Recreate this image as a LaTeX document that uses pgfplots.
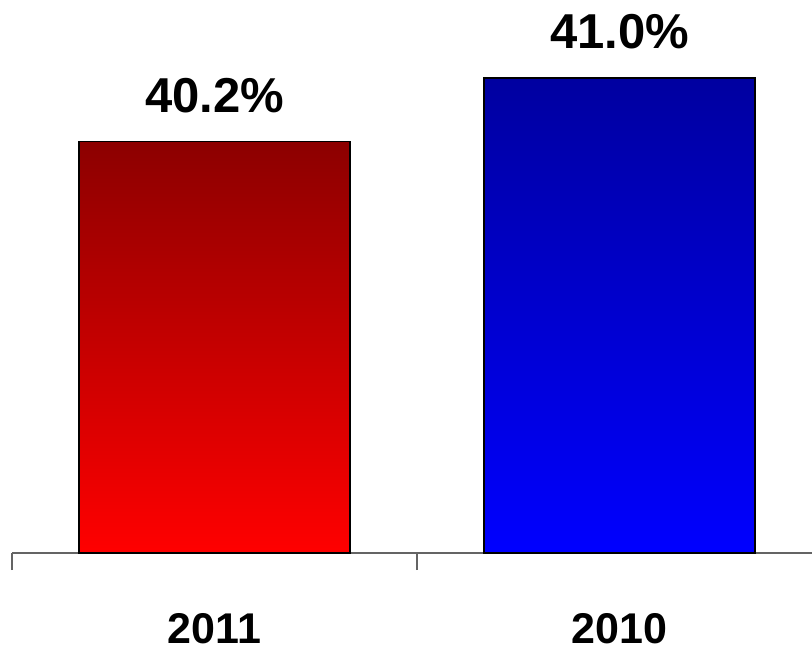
\documentclass[border=0pt]{standalone}
\usepackage{pgfplots}
\pgfplotsset{compat=1.18}
\usepackage{fontspec}
\setmainfont{Liberation Sans}
\definecolor{redtop}{RGB}{140,0,0}
\definecolor{redbot}{RGB}{255,0,0}
\definecolor{bluetop}{RGB}{0,0,160}
\definecolor{bluebot}{RGB}{0,0,255}
\definecolor{axgray}{RGB}{100,100,100}
\begin{document}
\begin{tikzpicture}
\path[use as bounding box] (0,0) rectangle (812pt,651pt);
\begin{axis}[
  at={(12pt,98pt)}, anchor=south west,
  width=800pt, height=553pt, scale only axis,
  xmin=-0.5, xmax=1.4753,
  ymin=35, ymax=41.985,
  axis x line*=bottom,
  axis y line=none,
  x axis line style={draw=axgray, line width=1.5pt},
  ybar, bar shift=0pt, bar width=0.669,
  xtick={0,1}, xticklabels={2011,2010},
  major tick length=0pt,
  xticklabel style={font=\fontsize{43}{48}\selectfont\bfseries, anchor=base, yshift=-90pt},
  extra x ticks={-0.5,0.5},
  extra x tick labels={},
  extra x tick style={major tick length=17pt, tick align=outside, tick style={draw=axgray, line width=1.5pt}},
  /pgf/number format/assume math mode=true,
  nodes near coords={\pgfmathprintnumber[fixed,fixed zerofill,precision=1]{\pgfplotspointmeta}\%},
  every node near coord/.append style={font=\fontsize{49}{56}\selectfont\bfseries, anchor=base, yshift=29pt, text=black},
  clip=false,
]
\addplot[draw=black, line width=1.2pt, top color=redtop, bottom color=redbot] coordinates {(0,40.2)};
\addplot[draw=black, line width=1.2pt, top color=bluetop, bottom color=bluebot] coordinates {(1,41.0)};
\end{axis}
\end{tikzpicture}
\end{document}
